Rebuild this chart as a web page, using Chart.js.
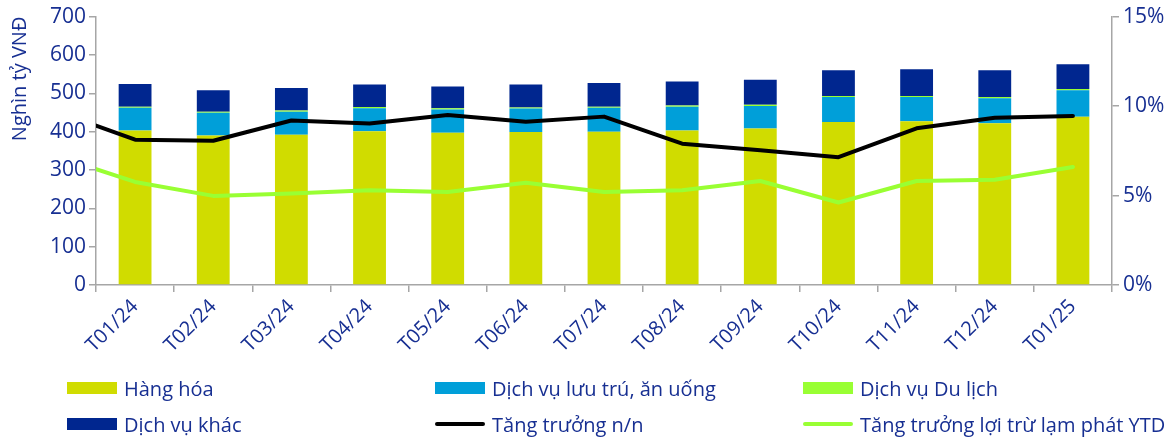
<!DOCTYPE html>
<html>
<head>
<meta charset="utf-8">
<script src="https://cdn.jsdelivr.net/npm/chart.js@4"></script>
<style>
  html, body { margin: 0; padding: 0; background: #ffffff; }
  #wrap { position: relative; width: 1175px; height: 437px; overflow: hidden; }
  #c { position: absolute; left: 0; top: 0; }
  .lg { position: absolute; display: flex; align-items: center; font-family: "Open Sans", sans-serif; font-size: 20px; color: #172f92; white-space: nowrap; }
  .lg .sw { width: 50px; height: 12px; margin-right: 7px; }
  .lg .ln { width: 50px; height: 4px; margin-right: 7px; border-radius: 2px; }
</style>
</head>
<body>
<div id="wrap">
  <canvas id="c" width="1175" height="437"></canvas>
  <div id="legend"></div>
</div>
<script>
// ---- Data ----
const categories = ['T12/23','T01/24','T02/24','T03/24','T04/24','T05/24','T06/24','T07/24','T08/24','T09/24','T10/24','T11/24','T12/24','T01/25'];
const hangHoa   = [null, 403, 390, 392, 401, 397, 399, 400, 403, 408, 425, 427, 422, 439];
const luuTruAnUong = [null, 59, 59, 60, 60, 61, 61, 62, 62, 59, 65, 63, 65, 69];
const duLich    = [null, 3, 3, 3, 3, 3, 3, 3, 3, 3, 3, 3, 3, 3];
const dichVuKhac = [null, 59, 56, 59, 59, 57, 60, 62, 63, 65, 67, 70, 70, 65];
const tangTruongNN = [9.7, 8.12, 8.06, 9.19, 9.02, 9.50, 9.13, 9.41, 7.90, 7.53, 7.14, 8.76, 9.35, 9.45];
const tangTruongThuc = [7.2, 5.76, 4.98, 5.11, 5.30, 5.20, 5.72, 5.20, 5.30, 5.81, 4.61, 5.81, 5.88, 6.60];
const leftTicks = [0, 100, 200, 300, 400, 500, 600, 700];
const rightTicks = [0, 5, 10, 15];

const TEXT = '#172f92';
const AXIS = '#a6a6a6';
const FONT = '"Open Sans", sans-serif';

const colors = {
  hangHoa: '#d0dc00',
  luuTru: '#009fd9',
  duLich: '#99ff33',
  khac: '#00268f',
  nn: '#000000',
  thuc: '#99ff33'
};

const barCommon = { type: 'bar', yAxisID: 'y', stack: 's', order: 1, barPercentage: 0.42, categoryPercentage: 1.0, borderWidth: 0 };
const lineCommon = { type: 'line', yAxisID: 'y1', order: 0, borderWidth: 4, pointRadius: 0, tension: 0, fill: false, borderJoinStyle: 'round', borderCapStyle: 'round' };

const datasets = [
  Object.assign({ label: 'Hàng hóa', data: hangHoa, backgroundColor: colors.hangHoa }, barCommon),
  Object.assign({ label: 'Dịch vụ lưu trú, ăn uống', data: luuTruAnUong, backgroundColor: colors.luuTru }, barCommon),
  Object.assign({ label: 'Dịch vụ Du lịch', data: duLich, backgroundColor: colors.duLich }, barCommon),
  Object.assign({ label: 'Dịch vụ khác', data: dichVuKhac, backgroundColor: colors.khac }, barCommon),
  Object.assign({ label: 'Tăng trưởng n/n', data: tangTruongNN, borderColor: colors.nn, backgroundColor: colors.nn }, lineCommon),
  Object.assign({ label: 'Tăng trưởng lợi trừ lạm phát YTD', data: tangTruongThuc, borderColor: colors.thuc, backgroundColor: colors.thuc }, lineCommon)
];

const chart = new Chart(document.getElementById('c'), {
  data: { labels: categories, datasets: datasets },
  options: {
    responsive: false,
    animation: false,
    events: [],
    layout: { padding: { top: 14, left: 0, right: 0, bottom: 0 } },
    plugins: { legend: { display: false }, tooltip: { enabled: false } },
    scales: {
      x: {
        type: 'category',
        min: 'T01/24',
        offset: true,
        stacked: true,
        grid: { display: true, drawOnChartArea: false, drawTicks: true, tickLength: 7, offset: true, color: AXIS, lineWidth: 1.5 },
        border: { display: true, color: AXIS, width: 1.5 },
        ticks: { color: TEXT, font: { family: FONT, size: 20 }, maxRotation: 45, minRotation: 45, autoSkip: false, padding: 3 },
        afterFit: s => { s.height = 152; }
      },
      y: {
        position: 'left',
        stacked: true,
        min: 0, max: 700,
        afterBuildTicks: s => { s.ticks = leftTicks.map(v => ({ value: v })); },
        grid: { display: true, drawOnChartArea: false, drawTicks: true, tickLength: 7, color: AXIS, lineWidth: 1.5 },
        border: { display: true, color: AXIS, width: 1.5 },
        ticks: { color: TEXT, font: { family: FONT, size: 21 }, padding: 3 },
        title: { display: true, text: 'Nghìn tỷ VNĐ', color: TEXT, font: { family: FONT, size: 20 }, align: 'end', padding: { top: 8, bottom: 0 } },
        afterFit: s => { s.width = 96; }
      },
      y1: {
        position: 'right',
        min: 0, max: 15,
        afterBuildTicks: s => { s.ticks = rightTicks.map(v => ({ value: v })); },
        grid: { display: true, drawOnChartArea: false, drawTicks: true, tickLength: 7, color: AXIS, lineWidth: 1.5 },
        border: { display: true, color: AXIS, width: 1.5 },
        ticks: { color: TEXT, font: { family: FONT, size: 21 }, padding: 4, callback: v => v + '%' },
        afterFit: s => { s.width = 63; }
      }
    }
  }
});

// ---- HTML legend built from the datasets ----
const legendPos = [
  { left: 67, top: 388 }, { left: 435, top: 388 }, { left: 803, top: 388 },
  { left: 67, top: 424 }, { left: 435, top: 424 }, { left: 803, top: 424 }
];
const legendOrder = [0, 1, 2, 3, 4, 5];
const lg = document.getElementById('legend');
legendOrder.forEach((di, i) => {
  const ds = datasets[di];
  const el = document.createElement('div');
  el.className = 'lg';
  el.style.left = legendPos[i].left + 'px';
  el.style.top = (legendPos[i].top - 14) + 'px';
  el.style.height = '28px';
  const sw = document.createElement('span');
  sw.className = ds.type === 'line' ? 'ln' : 'sw';
  sw.style.background = ds.type === 'line' ? ds.borderColor : ds.backgroundColor;
  const tx = document.createElement('span');
  tx.textContent = ds.label;
  el.appendChild(sw);
  el.appendChild(tx);
  lg.appendChild(el);
});
</script>
</body>
</html>
